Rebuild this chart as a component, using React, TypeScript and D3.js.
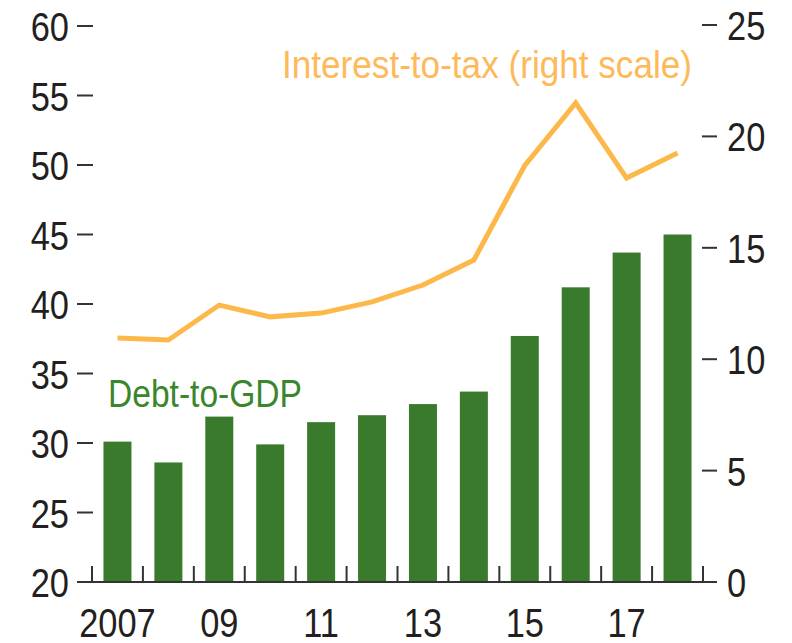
import React from "react";
import * as d3 from "d3";

const years = [2007, 2008, 2009, 2010, 2011, 2012, 2013, 2014, 2015, 2016, 2017, 2018];
const yearLabels = ["2007", "", "09", "", "11", "", "13", "", "15", "", "17", ""];
const debtToGDP = [30.1, 28.6, 31.9, 29.9, 31.5, 32.0, 32.8, 33.7, 37.7, 41.2, 43.7, 45.0];
const interestToTax = [10.95, 10.86, 12.43, 11.9, 12.07, 12.57, 13.33, 14.45, 18.7, 21.5, 18.13, 19.25];
const leftTicks = [20, 25, 30, 35, 40, 45, 50, 55, 60];
const rightTicks = [0, 5, 10, 15, 20, 25];

const W = 792;
const H = 643;
const FONT = "'Liberation Sans', Arial, sans-serif";
const SX = 0.84;

function T(props: {
  x: number;
  y: number;
  anchor?: "start" | "middle" | "end";
  size: number;
  fill: string;
  sx?: number;
  len?: number;
  children: React.ReactNode;
}) {
  const { x, y, anchor = "start", size, fill, sx = SX, len, children } = props;
  return (
    <text
      transform={`translate(${x},${y}) scale(${len ? 1 : sx},1)`}
      textAnchor={anchor}
      fontFamily={FONT}
      fontSize={size}
      fill={fill}
      {...(len ? { textLength: len, lengthAdjust: "spacingAndGlyphs" } : {})}
    >
      {children}
    </text>
  );
}

export default function App() {
  const x = d3.scaleBand<number>().domain(years).range([92, 703]).paddingInner(0.45).paddingOuter(0.225);
  const yL = d3.scaleLinear().domain([20, 60]).range([582, 26]);
  const yR = d3.scaleLinear().domain([0, 25]).range([582, 25]);
  const cx = (i: number) => (x(years[i]) as number) + x.bandwidth() / 2;
  const line = d3
    .line<number>()
    .x((_, i) => cx(i))
    .y((d) => yR(d));
  const tickXs = years.map((_, i) => 92 + i * ((703 - 92) / 12)).concat([703]);

  return (
    <svg width={W} height={H} style={{ position: "absolute", left: 0, top: 0, background: "#fff" }}>
      {debtToGDP.map((v, i) => (
        <rect
          key={i}
          x={x(years[i])}
          y={yL(v)}
          width={x.bandwidth()}
          height={yL(20) - yL(v)}
          fill="#3a7a2c"
        />
      ))}
      <path d={line(interestToTax) || ""} fill="none" stroke="#fdb84a" strokeWidth={5} strokeLinejoin="miter" />
      {/* x axis */}
      <line x1={77} x2={717} y1={582} y2={582} stroke="#333" strokeWidth={2} />
      {tickXs.map((tx, i) => (
        <line key={i} x1={tx} x2={tx} y1={566} y2={582} stroke="#333" strokeWidth={2} />
      ))}
      {yearLabels.map((l, i) =>
        l ? (
          <T key={i} x={cx(i)} y={637} anchor="middle" size={41} fill="#231f20">
            {l}
          </T>
        ) : null
      )}
      {/* left axis */}
      {leftTicks.map((t) => (
        <g key={t}>
          {t !== 20 && <line x1={77} x2={93} y1={yL(t)} y2={yL(t)} stroke="#333" strokeWidth={2} />}
          <T x={69} y={yL(t) + 15} anchor="end" size={41} fill="#231f20">
            {t}
          </T>
        </g>
      ))}
      {/* right axis */}
      {rightTicks.map((t) => (
        <g key={t}>
          {t !== 0 && <line x1={702} x2={717} y1={yR(t)} y2={yR(t)} stroke="#333" strokeWidth={2} />}
          <T x={727} y={yR(t) + 15} anchor="start" size={41} fill="#231f20">
            {t}
          </T>
        </g>
      ))}
      <T x={108} y={407} size={38} fill="#3a862c" len={194}>
        Debt-to-GDP
      </T>
      <T x={282} y={78} size={38} fill="#fdb95a" len={410}>
        Interest-to-tax (right scale)
      </T>
    </svg>
  );
}
